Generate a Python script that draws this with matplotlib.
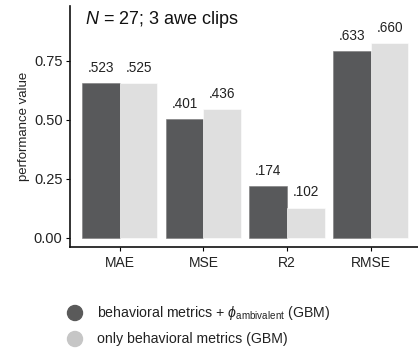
import matplotlib
matplotlib.use("Agg")
import matplotlib.pyplot as plt
from matplotlib.ticker import FixedLocator, FuncFormatter
import numpy as np

plt.rcParams["font.family"] = ["Liberation Sans", "DejaVu Sans"]
plt.rcParams["mathtext.fontset"] = "custom"
plt.rcParams["mathtext.rm"] = "Liberation Sans"
plt.rcParams["mathtext.it"] = "Liberation Sans:italic"

metrics = ["MAE", "MSE", "R2", "RMSE"]
with_phi = [0.523, 0.401, 0.174, 0.633]
behavioral_only = [0.525, 0.436, 0.102, 0.660]
series_names = [r"behavioral metrics + $\it{\phi}_{\rm ambivalent}$ (GBM)",
                "only behavioral metrics (GBM)"]
axis_ticks = [0.00, 0.25, 0.50, 0.75]
axis_scale = 1.25  # axis units per performance unit

dark, light = "#58595b", "#dfdfdf"
legend_dark, legend_light = "#5a5a5a", "#c6c6c6"

W, H = 418, 348
fig = plt.figure(figsize=(W / 100, H / 100), dpi=100)
left, right, bottom, top = 69.5, 421, 246.7, 6
ax = fig.add_axes([left / W, 1 - bottom / H, (right - left) / W, (bottom - top) / H])

x = np.arange(1, len(metrics) + 1)
bw = 0.45
ax.bar(x - bw / 2, with_phi, width=bw, color=dark, edgecolor="#7a7a7a", linewidth=0.4)
ax.bar(x + bw / 2, behavioral_only, width=bw, color=light, edgecolor="white", linewidth=0.4)

for xi, v in zip(x - bw / 2, with_phi):
    ax.annotate(f"{v:.3f}".lstrip("0"), (xi, v), xytext=(0, 6), textcoords="offset points",
                ha="center", va="bottom", fontsize=9.8, color="#222222")
for xi, v in zip(x + bw / 2, behavioral_only):
    ax.annotate(f"{v:.3f}".lstrip("0"), (xi, v), xytext=(0, 6), textcoords="offset points",
                ha="center", va="bottom", fontsize=9.8, color="#222222")

ax.set_xlim(0.4, 4.6)
ax.set_ylim(-0.038 / axis_scale, 0.982 / axis_scale)
ax.set_xticks(x)
ax.set_xticklabels(metrics, fontsize=10, color="#222222")
ax.yaxis.set_major_locator(FixedLocator([t / axis_scale for t in axis_ticks]))
ax.yaxis.set_major_formatter(FuncFormatter(lambda v, p: f"{v * axis_scale:.2f}"))
ax.tick_params(axis="y", labelsize=10.5, labelcolor="#222222", length=3, width=0.8, pad=2)
ax.tick_params(axis="x", length=3, width=0.8, pad=4)
for s in ["top", "right"]:
    ax.spines[s].set_visible(False)
for s in ["left", "bottom"]:
    ax.spines[s].set_linewidth(1.2)
    ax.spines[s].set_color("#111111")
ax.set_ylabel("performance value", fontsize=9.5, color="#222222", labelpad=3)

ax.text(85 / W, 1 - 20 / H, r"$\it{N}$ = 27; 3 awe clips", transform=fig.transFigure,
        fontsize=13, va="center", ha="left", color="#111111")

# legend drawn as keys + labels below the plot
for yy, col, name in [(313, legend_dark, series_names[0]), (339, legend_light, series_names[1])]:
    fig.patches.append(matplotlib.patches.Ellipse((75 / W, 1 - yy / H), 15 / W, 15 / H,
                                                  transform=fig.transFigure, color=col))
    fig.text(97 / W, 1 - yy / H, name, fontsize=10.2, va="center", ha="left", color="#222222")

fig.savefig("out.png", dpi=100)
